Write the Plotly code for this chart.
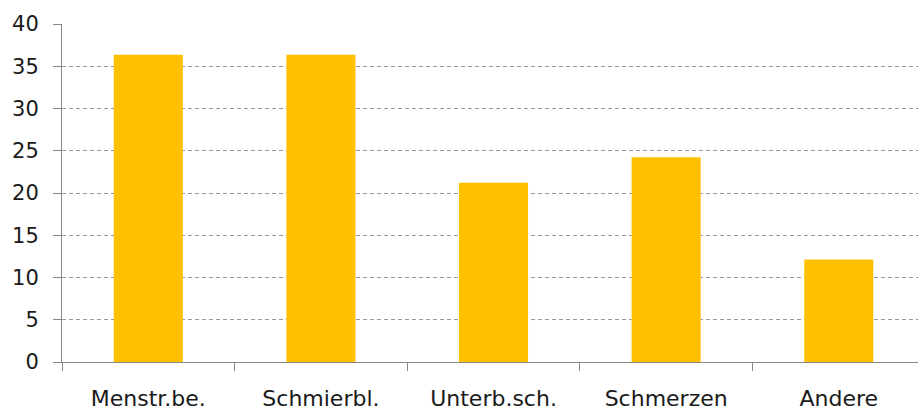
import plotly.graph_objects as go

categories = ["Menstr.be.", "Schmierbl.", "Unterb.sch.", "Schmerzen", "Andere"]
values = [36.36, 36.36, 21.21, 24.24, 12.12]
y_ticks = [0, 5, 10, 15, 20, 25, 30, 35, 40]

fig = go.Figure(go.Bar(x=categories, y=values, marker_color="#FFC000",
                       marker_line_width=0, width=0.4))

axis_gray = "#868686"
fig.update_layout(
    width=918, height=410,
    margin=dict(l=62, r=0, t=24, b=48, autoexpand=False),
    plot_bgcolor="white", paper_bgcolor="white",
    font=dict(family="DejaVu Sans", size=22, color="#1a1a1a"),
    showlegend=False,
)
fig.update_xaxes(
    type="category", range=[-0.5, 4.459], automargin=False,
    showline=True, linecolor=axis_gray, linewidth=1,
    ticks="outside", ticklen=8, tickcolor=axis_gray, tickson="boundaries",
    showgrid=False, ticklabelstandoff=17,
)
fig.update_yaxes(
    range=[0, 40], tickvals=y_ticks, automargin=False,
    showline=True, linecolor=axis_gray, linewidth=1,
    ticks="outside", ticklen=8, tickcolor=axis_gray, tickfont=dict(size=21),
    showgrid=True, gridcolor="#999999", gridwidth=1, griddash="4px,3px",
    zeroline=False, ticklabelstandoff=10,
)

fig.write_html("out.html", config={"displayModeBar": False},
               post_script="document.body.style.margin='0';")
